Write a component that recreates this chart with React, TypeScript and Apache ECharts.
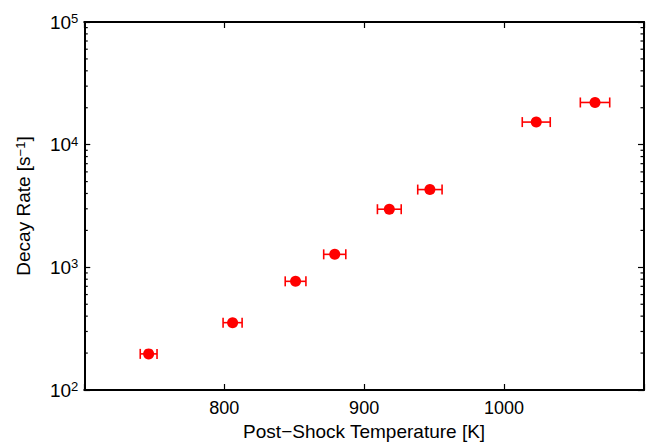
import React, { useEffect, useRef } from "react";
import * as echarts from "echarts";

// Data
const temperatures = [746, 806, 851, 879, 918, 947, 1023, 1065];
const decayRates = [197, 354, 769, 1276, 2977, 4305, 15280, 22080];
const tempErrors = [6, 6.8, 7.4, 7.9, 8.5, 8.7, 10, 10.5];
const xTicks = [800, 900, 1000];
const yMinorTicks = [
  200, 300, 400, 500, 600, 700, 800, 900,
  2000, 3000, 4000, 5000, 6000, 7000, 8000, 9000,
  20000, 30000, 40000, 50000, 60000, 70000, 80000, 90000,
];

const X_MIN = 700;
const X_MAX = 1100;
const Y_MIN = 100;
const Y_MAX = 100000;
const FONT = "'Liberation Sans', Arial, Helvetica, sans-serif";
const RED = "#ff0000";

export default function App() {
  const ref = useRef<HTMLDivElement>(null);

  useEffect(() => {
    if (!ref.current) return;
    const chart = echarts.init(ref.current, undefined, { renderer: "svg" });

    const supRich = {
      b: {
        fontSize: 19,
        lineHeight: 20,
        fontFamily: FONT,
        color: "#000",
        padding: [7, 0, 7, 0],
      },
      sup: {
        fontSize: 13,
        lineHeight: 14,
        fontFamily: FONT,
        color: "#000",
        verticalAlign: "top" as const,
      },
    };

    const axisLine = { show: true, lineStyle: { color: "#000", width: 2 } };
    const majorTick = { show: true, inside: true, length: 6, lineStyle: { color: "#000", width: 1.2 } };

    const errData = temperatures.map((t, i) => [t, decayRates[i], tempErrors[i]]);
    const scatterData = temperatures.map((t, i) => [t, decayRates[i]]);

    chart.setOption({
      animation: false,
      backgroundColor: "#fff",
      textStyle: { fontFamily: FONT },
      grid: { left: 79, right: 3, top: 22, bottom: 49, containLabel: false },
      xAxis: [
        {
          type: "value",
          position: "bottom",
          min: X_MIN,
          max: X_MAX,
          interval: 100,
          axisLine,
          axisTick: majorTick,
          splitLine: { show: false },
          axisLabel: {
            color: "#000",
            fontSize: 18,
            fontFamily: FONT,
            margin: 9,
            formatter: (v: number) => (xTicks.includes(v) ? String(v) : ""),
          },
          name: "Post\u2212Shock Temperature [K]",
          nameLocation: "middle",
          nameGap: 32,
          nameTextStyle: { color: "#000", fontSize: 19, fontFamily: FONT },
        },
        {
          type: "value",
          position: "top",
          min: X_MIN,
          max: X_MAX,
          interval: 100,
          axisLine,
          axisTick: majorTick,
          splitLine: { show: false },
          axisLabel: { show: false },
        },
      ],
      yAxis: [
        {
          type: "log",
          logBase: 10,
          position: "left",
          min: Y_MIN,
          max: Y_MAX,
          axisLine,
          axisTick: majorTick,
          splitLine: { show: false },
          axisLabel: {
            color: "#000",
            margin: 6,
            formatter: (v: number) => `{b|10}{sup|${Math.round(Math.log10(v))}}`,
            rich: supRich,
          },
          name: "{n|Decay Rate [s}{sup|\u22121}{n|]}",
          nameLocation: "middle",
          nameGap: 34,
          nameRotate: 90,
          nameTextStyle: {
            color: "#000",
            fontSize: 19,
            fontFamily: FONT,
            rich: {
              n: { fontSize: 19, lineHeight: 20, fontFamily: FONT, color: "#000", padding: [6, 0, 6, 0] },
              sup: { fontSize: 13, lineHeight: 14, fontFamily: FONT, color: "#000", verticalAlign: "top" },
            },
          },
        },
        {
          type: "log",
          logBase: 10,
          position: "right",
          min: Y_MIN,
          max: Y_MAX,
          axisLine,
          axisTick: majorTick,
          splitLine: { show: false },
          axisLabel: { show: false },
        },
      ],
      series: [
        {
          type: "custom",
          name: "minorTicks",
          xAxisIndex: 0,
          yAxisIndex: 0,
          silent: true,
          clip: false,
          data: yMinorTicks.map((v) => [X_MIN, v]),
          renderItem: (params: any, api: any) => {
            const v = api.value(1);
            const l = api.coord([X_MIN, v]);
            const r = api.coord([X_MAX, v]);
            const st = { stroke: "#000", lineWidth: 1.2 };
            return {
              type: "group",
              children: [
                { type: "line", shape: { x1: l[0], y1: l[1], x2: l[0] + 3.5, y2: l[1] }, style: st },
                { type: "line", shape: { x1: r[0], y1: r[1], x2: r[0] - 3.5, y2: r[1] }, style: st },
              ],
            };
          },
        },
        {
          type: "custom",
          name: "errorBars",
          xAxisIndex: 0,
          yAxisIndex: 0,
          silent: true,
          data: errData,
          renderItem: (params: any, api: any) => {
            const x = api.value(0);
            const y = api.value(1);
            const e = api.value(2);
            const a = api.coord([x - e, y]);
            const b = api.coord([x + e, y]);
            const h = 5;
            const st = { stroke: RED, lineWidth: 1.6 };
            return {
              type: "group",
              children: [
                { type: "line", shape: { x1: a[0], y1: a[1], x2: b[0], y2: b[1] }, style: st },
                { type: "line", shape: { x1: a[0], y1: a[1] - h, x2: a[0], y2: a[1] + h }, style: st },
                { type: "line", shape: { x1: b[0], y1: b[1] - h, x2: b[0], y2: b[1] + h }, style: st },
              ],
            };
          },
        },
        {
          type: "scatter",
          name: "Decay Rate",
          xAxisIndex: 0,
          yAxisIndex: 0,
          symbol: "circle",
          symbolSize: 11,
          itemStyle: { color: RED, opacity: 1 },
          data: scatterData,
          z: 3,
        },
      ],
    });

    return () => chart.dispose();
  }, []);

  return (
    <div
      ref={ref}
      style={{ position: "fixed", left: 0, top: 0, width: 647, height: 446, background: "#fff" }}
    />
  );
}
